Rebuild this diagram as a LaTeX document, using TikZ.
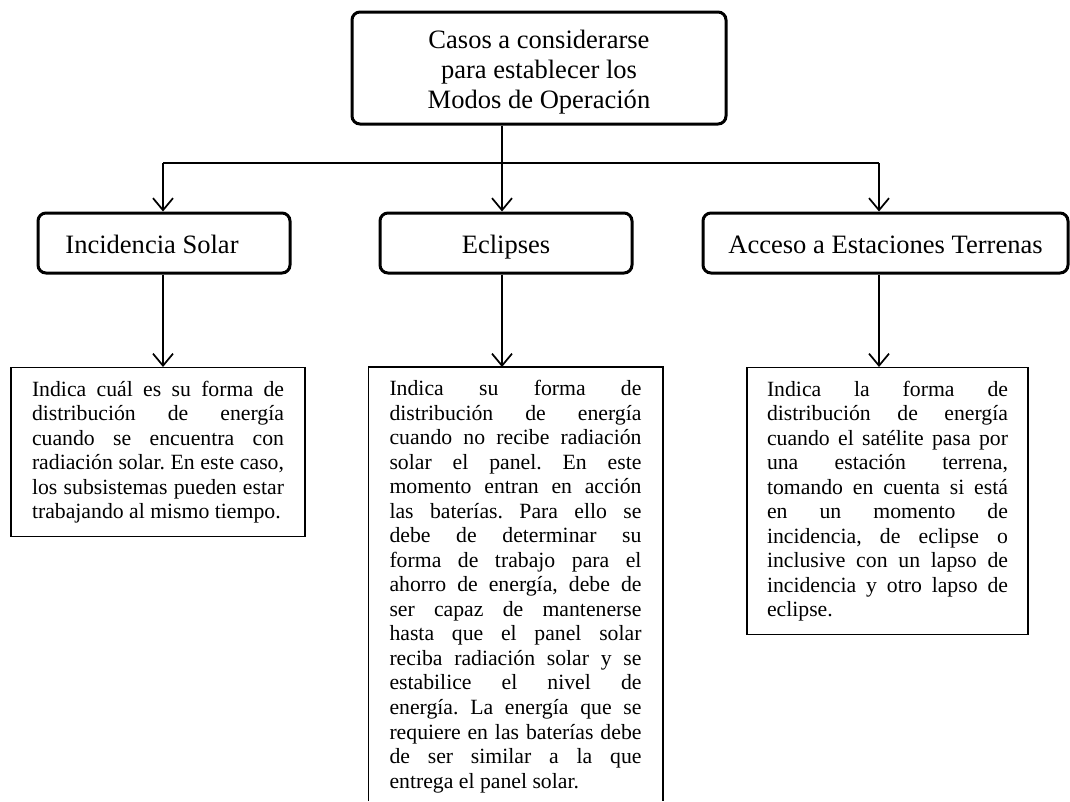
\documentclass[tikz,border=0pt]{standalone}
\usepackage{fontspec}
\setmainfont{Liberation Serif}
\usetikzlibrary{arrows.meta}
\tolerance=10000
\hbadness=10000
\hyphenpenalty=10000
\frenchspacing
\begin{document}
\begin{tikzpicture}[x=0.75pt,y=-0.75pt,
 head/.style={draw, line width=2.25pt, rounded corners=6pt, font=\fontsize{19.9}{22.5}\selectfont, align=center, inner sep=0pt},
 onehead/.style={head, text height=16pt, text depth=1pt},
 note/.style={font=\fontsize{16.3}{18.4}\selectfont, align=justify, inner ysep=9.75pt, anchor=north},
 notebox/.style={note, draw, line width=1.1pt},
 frameline/.style={line width=1.1pt},
 bus/.style={line width=1pt},
 conn/.style={line width=1.5pt, -{Straight Barb[length=9pt,width=15pt,line width=1.3pt]}}
]
\useasboundingbox (0,0) rectangle (1070,801);

\node[head, minimum width=280.5pt, minimum height=84pt] (top) at (539,68) {\rule{0pt}{20pt}Casos a considerarse\\para establecer los\\Modos de Operación};
\node[onehead, minimum width=189pt, minimum height=45pt] (inc) at (164,243) {Incidencia Solar\hspace*{18pt}};
\node[onehead, minimum width=189pt, minimum height=45pt] (ecl) at (506,243) {Eclipses};
\node[onehead, minimum width=273.75pt, minimum height=45pt] (acc) at (885.5,243) {Acceso a Estaciones Terrenas};

\node[notebox, text width=189pt, inner xsep=15.75pt] (t1) at (158,367) {Indica cuál es su forma de\linebreak distribución de energía\linebreak cuando se encuentra con\linebreak radiación solar. En este caso,\linebreak los subsistemas pueden estar\linebreak trabajando al mismo tiempo.};

\node[note, text width=189pt, inner xsep=15.75pt] (t2) at (515.5,367) {Indica su forma de\linebreak distribución de energía\linebreak cuando no recibe radiación\linebreak solar el panel. En este\linebreak momento entran en acción\linebreak las baterías. Para ello se\linebreak debe de determinar su\linebreak forma de trabajo para el\linebreak ahorro de energía, debe de\linebreak ser capaz de mantenerse\linebreak hasta que el panel solar\linebreak reciba radiación solar y se\linebreak estabilice el nivel de\linebreak energía. La energía que se\linebreak requiere en las baterías debe\linebreak de ser similar a la que\linebreak entrega el panel solar.};

\node[notebox, text width=180.75pt, inner xsep=15pt] (t3) at (887.5,367) {Indica la forma de\linebreak distribución de energía\linebreak cuando el satélite pasa por\linebreak una estación terrena,\linebreak tomando en cuenta si está\linebreak en un momento de\linebreak incidencia, de eclipse o\linebreak inclusive con un lapso de\linebreak incidencia y otro lapso de\linebreak eclipse.};

\coordinate (floor) at (0,801);
\draw[frameline] (t2.north west |- floor) -- (t2.north west) -- (t2.north east) -- (t2.north east |- floor);

\coordinate (bL) at (163,163);
\coordinate (bM) at (502,163);
\coordinate (bR) at (879,163);
\draw[bus] (bL) -- (bR);
\draw[conn] (bL) -- (bL |- inc.north);
\draw[conn] (top.south -| bM) -- (bM |- ecl.north);
\draw[conn] (bR) -- (bR |- acc.north);
\draw[conn] (inc.south -| bL) -- (bL |- t1.north);
\draw[conn] (ecl.south -| bM) -- (bM |- t2.north);
\draw[conn] (acc.south -| bR) -- (bR |- t3.north);
\end{tikzpicture}
\end{document}
